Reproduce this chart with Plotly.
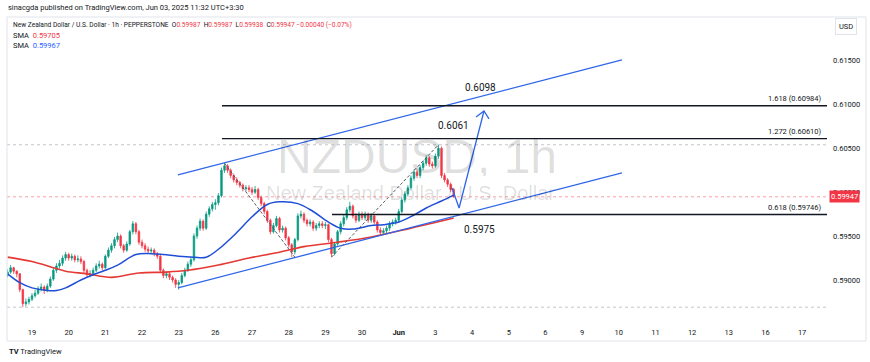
import plotly.graph_objects as go

# ---------------- data ----------------
# time axis: trading hours counted from 19 May 00:00 (weekends removed)
tick_labels = ["19", "20", "21", "22", "23", "26", "27", "28", "29", "30", "<b>Jun</b>",
               "3", "4", "5", "6", "9", "10", "11", "12", "13", "16", "17"]
tick_hours = [24 * i for i in range(len(tick_labels))]

bar_start_hour = -16
bar_step_hours = 2
first_open = 0.5905

close = [
    0.5909, 0.5914, 0.5910, 0.5907, 0.5889, 0.5873, 0.5875, 0.5878,
    0.5882, 0.5885, 0.5890, 0.5892, 0.5888, 0.5893, 0.5901, 0.5911, 0.5916, 0.5919, 0.5925, 0.5929,
    0.5925, 0.5927, 0.5923, 0.5924, 0.5921, 0.5911, 0.5906, 0.5907, 0.5911, 0.5916, 0.5918, 0.5914,
    0.5927, 0.5934, 0.5939, 0.5946, 0.5950, 0.5939, 0.5934, 0.5941, 0.5955, 0.5964, 0.5955, 0.5943,
    0.5939, 0.5935, 0.5933, 0.5934, 0.5930, 0.5927, 0.5911, 0.5905, 0.5907, 0.5903, 0.5900, 0.5895,
    0.5897, 0.5905, 0.5911, 0.5918, 0.5923, 0.5950, 0.5959, 0.5967, 0.5959, 0.5975, 0.5981, 0.5986,
    0.5988, 0.5996, 0.6025, 0.6030, 0.6025, 0.6019, 0.6014, 0.6011, 0.6008, 0.6004, 0.6005, 0.6003,
    0.6000, 0.6003, 0.5994, 0.5987, 0.5978, 0.5968, 0.5955, 0.5962, 0.5970, 0.5957, 0.5959, 0.5948,
    0.5940, 0.5932, 0.5946, 0.5973, 0.5975, 0.5968, 0.5964, 0.5966, 0.5959, 0.5962, 0.5964, 0.5962,
    0.5963, 0.5946, 0.5930, 0.5941, 0.5955, 0.5964, 0.5971, 0.5980, 0.5984, 0.5973, 0.5968, 0.5975,
    0.5971, 0.5975, 0.5968, 0.5973, 0.5966, 0.5957, 0.5954, 0.5956, 0.5959, 0.5964, 0.5966, 0.5968,
    0.5978, 0.5991, 0.5998, 0.6005, 0.6016, 0.6023, 0.6019, 0.6028, 0.6033, 0.6039, 0.6032, 0.6030,
    0.6041, 0.6050, 0.6019, 0.6014, 0.6009, 0.6003, 0.59947,
]
high = [
    0.5912, 0.5917, 0.5915, 0.5911, 0.5908, 0.5890, 0.5879, 0.5881,
    0.5885, 0.5889, 0.5893, 0.5896, 0.5894, 0.5896, 0.5904, 0.5914, 0.5919, 0.5923, 0.5928, 0.5932,
    0.5931, 0.5930, 0.5929, 0.5928, 0.5927, 0.5923, 0.5913, 0.5911, 0.5914, 0.5919, 0.5922, 0.5920,
    0.5929, 0.5937, 0.5942, 0.5949, 0.5954, 0.5952, 0.5941, 0.5944, 0.5957, 0.5967, 0.5966, 0.5957,
    0.5946, 0.5942, 0.5938, 0.5937, 0.5936, 0.5932, 0.5929, 0.5913, 0.5910, 0.5909, 0.5905, 0.5902,
    0.5900, 0.5908, 0.5914, 0.5921, 0.5926, 0.5953, 0.5962, 0.5970, 0.5969, 0.5978, 0.5984, 0.5989,
    0.5992, 0.5999, 0.6028, 0.6033, 0.6032, 0.6027, 0.6021, 0.6017, 0.6013, 0.6010, 0.6008, 0.6008,
    0.6006, 0.6007, 0.6005, 0.5996, 0.5989, 0.5980, 0.5970, 0.5965, 0.5973, 0.5972, 0.5962, 0.5961,
    0.5950, 0.5942, 0.5948, 0.5976, 0.5979, 0.5977, 0.5970, 0.5969, 0.5968, 0.5965, 0.5967, 0.5967,
    0.5966, 0.5964, 0.5948, 0.5943, 0.5957, 0.5967, 0.5974, 0.5983, 0.5989, 0.5986, 0.5976, 0.5978,
    0.5978, 0.5978, 0.5977, 0.5976, 0.5975, 0.5968, 0.5960, 0.5959, 0.5962, 0.5967, 0.5969, 0.5971,
    0.5981, 0.5994, 0.6001, 0.6008, 0.6019, 0.6026, 0.6026, 0.6031, 0.6036, 0.6042, 0.6041, 0.6035,
    0.6044, 0.6054, 0.6052, 0.6022, 0.6016, 0.6011, 0.60050,
]
low = [
    0.5903, 0.5907, 0.5907, 0.5903, 0.5886, 0.5869, 0.5870, 0.5872,
    0.5876, 0.5880, 0.5883, 0.5887, 0.5884, 0.5886, 0.5891, 0.5899, 0.5908, 0.5913, 0.5916, 0.5922,
    0.5922, 0.5922, 0.5920, 0.5920, 0.5918, 0.5908, 0.5903, 0.5903, 0.5905, 0.5909, 0.5913, 0.5911,
    0.5912, 0.5925, 0.5931, 0.5936, 0.5943, 0.5936, 0.5931, 0.5932, 0.5939, 0.5952, 0.5952, 0.5940,
    0.5936, 0.5932, 0.5930, 0.5930, 0.5927, 0.5924, 0.5908, 0.5902, 0.5902, 0.5900, 0.5897, 0.5891,
    0.5889, 0.5895, 0.5903, 0.5909, 0.5915, 0.5921, 0.5947, 0.5956, 0.5956, 0.5957, 0.5972, 0.5978,
    0.5980, 0.5985, 0.5994, 0.6022, 0.6022, 0.6016, 0.6011, 0.6008, 0.6005, 0.6001, 0.6001, 0.6000,
    0.5997, 0.5998, 0.5991, 0.5984, 0.5975, 0.5965, 0.5952, 0.5953, 0.5960, 0.5954, 0.5954, 0.5945,
    0.5937, 0.5926, 0.5929, 0.5944, 0.5970, 0.5965, 0.5961, 0.5961, 0.5956, 0.5956, 0.5959, 0.5959,
    0.5958, 0.5943, 0.5926, 0.5928, 0.5939, 0.5952, 0.5961, 0.5968, 0.5977, 0.5970, 0.5965, 0.5966,
    0.5968, 0.5968, 0.5965, 0.5965, 0.5963, 0.5954, 0.5951, 0.5951, 0.5953, 0.5956, 0.5961, 0.5963,
    0.5965, 0.5976, 0.5988, 0.5995, 0.6003, 0.6013, 0.6016, 0.6016, 0.6025, 0.6030, 0.6029, 0.6027,
    0.6028, 0.6038, 0.6016, 0.6011, 0.6006, 0.6000, 0.59938,
]

# moving averages (read at points along the curves)
sma_fast_hours = [-16, -8, 0, 10, 16, 22, 32, 40, 48, 56, 68, 78, 86, 96, 106, 114, 122, 134,
                  144, 154, 162, 174, 184, 194, 202, 210, 222, 230, 240, 250, 258, 268, 276]
sma_fast_values = [0.5907, 0.5897, 0.5891, 0.5888, 0.5888, 0.5891, 0.5900, 0.5906, 0.5911, 0.5917,
                   0.5929, 0.5930, 0.5929, 0.5927, 0.5926, 0.5926, 0.5935, 0.5954, 0.5972, 0.5986,
                   0.5989, 0.5987, 0.5978, 0.5966, 0.5959, 0.5958, 0.5962, 0.5963, 0.5966, 0.5974,
                   0.5982, 0.5990, 0.59967]
sma_slow_hours = [-16, 0, 14, 22, 36, 52, 70, 88, 102, 122, 142, 160, 178, 200, 222, 248, 276]
sma_slow_values = [0.5926, 0.5921, 0.5914, 0.5910, 0.5907, 0.5903, 0.5908, 0.5909, 0.5911, 0.5917,
                   0.5925, 0.5931, 0.5938, 0.5943, 0.5949, 0.5959, 0.59705]

# drawings
channel_hours = [95.5, 386.1]
channel_upper = [0.60197, 0.61507]
channel_lower = [0.58910, 0.60220]

fib_labels = ["1.618 (0.60984)", "1.272 (0.60610)", "0.618 (0.59746)"]
fib_prices = [0.60984, 0.60610, 0.59746]
fib_start_hours = [124.3, 124.3, 196.3]

swing1_hours = [126, 172]
swing1_prices = [0.6033, 0.5926]
swing2_hours = [196, 266]
swing2_prices = [0.5926, 0.6054]

arrow_hours = [274.9, 279.5, 295.8]
arrow_prices = [0.60048, 0.59820, 0.60925]
arrowhead_hours = [290.6, 295.8, 299.1]
arrowhead_prices = [0.60856, 0.60925, 0.60834]

target_labels = ["0.6098", "0.6061", "0.5975"]
last_price = 0.59947

# ---------------- figure ----------------
W, H = 870, 362
ML, MR, MT, MB = 7, 43, 17, 42
PW, PH = W - ML - MR, H - MT - MB


def xp(px):
    return (px - ML) / PW


def yp(py):
    return (H - MB - py) / PH


x_range = [(ML - 32) / 1.528, (W - MR - 32) / 1.528]
y_range = [0.62189 - 0.0001139 * (H - MB), 0.62189 - 0.0001139 * MT]

bar_hours = [bar_start_hour + bar_step_hours * i for i in range(len(close))]
opens = [first_open] + close[:-1]

UP, DOWN = "#089981", "#f23645"
BLUE_SMA, RED_SMA, DRAW_BLUE = "#1f4fd6", "#e53935", "#2f66e8"
TXT = "#131722"
FONT = "Roboto"

fig = go.Figure()

fig.add_trace(go.Scatter(x=sma_slow_hours, y=sma_slow_values, mode="lines",
                         line=dict(color=RED_SMA, width=1.6, shape="spline", smoothing=1.0),
                         hoverinfo="skip"))
fig.add_trace(go.Scatter(x=sma_fast_hours, y=sma_fast_values, mode="lines",
                         line=dict(color=BLUE_SMA, width=1.5, shape="spline", smoothing=1.0),
                         hoverinfo="skip"))

fig.add_trace(go.Candlestick(
    x=bar_hours, open=opens, high=high, low=low, close=close,
    increasing=dict(line=dict(color=UP, width=0.8), fillcolor=UP),
    decreasing=dict(line=dict(color=DOWN, width=0.8), fillcolor=DOWN),
    whiskerwidth=0, hoverinfo="skip"))

# channel lines
fig.add_trace(go.Scatter(x=channel_hours, y=channel_upper, mode="lines",
                         line=dict(color=DRAW_BLUE, width=1.3), hoverinfo="skip"))
fig.add_trace(go.Scatter(x=channel_hours, y=channel_lower, mode="lines",
                         line=dict(color=DRAW_BLUE, width=1.3), hoverinfo="skip"))
# projected path arrow
fig.add_trace(go.Scatter(x=arrow_hours, y=arrow_prices, mode="lines",
                         line=dict(color=DRAW_BLUE, width=1.3), hoverinfo="skip"))
fig.add_trace(go.Scatter(x=arrowhead_hours, y=arrowhead_prices, mode="lines",
                         line=dict(color=DRAW_BLUE, width=1.3), hoverinfo="skip"))
# dashed swing connectors
for hx, py_ in ((swing1_hours, swing1_prices), (swing2_hours, swing2_prices)):
    fig.add_trace(go.Scatter(x=hx, y=py_, mode="lines",
                             line=dict(color="#555a66", width=1, dash="3px,2px"), hoverinfo="skip"))

shapes = []
# visible high / low and last price dotted lines
shapes.append(dict(type="line", xref="x", yref="y", x0=x_range[0], x1=x_range[1],
                   y0=max(high), y1=max(high), line=dict(color="#c3c6ce", width=1, dash="dot"), layer="below"))
shapes.append(dict(type="line", xref="x", yref="y", x0=x_range[0], x1=x_range[1],
                   y0=min(low), y1=min(low), line=dict(color="#c3c6ce", width=1, dash="dot"), layer="below"))
shapes.append(dict(type="line", xref="x", yref="y", x0=x_range[0], x1=x_range[1],
                   y0=last_price, y1=last_price, line=dict(color="#f7a1a8", width=1, dash="dot"), layer="below"))
# fib levels
for fh, fp in zip(fib_start_hours, fib_prices):
    shapes.append(dict(type="line", xref="x", yref="y", x0=fh, x1=x_range[1], y0=fp, y1=fp,
                       line=dict(color=TXT, width=1.4)))
# outer frame
shapes.append(dict(type="rect", xref="paper", yref="paper", x0=xp(7), x1=xp(866), y0=yp(341), y1=yp(17),
                   line=dict(color="#e0e3eb", width=1), fillcolor="rgba(0,0,0,0)"))

annotations = []


def note(px_, py_, text, size=7.5, color=TXT, xanchor="center", family=FONT, **kw):
    annotations.append(dict(x=xp(px_), y=yp(py_), xref="paper", yref="paper", text=text,
                            xanchor=xanchor, yanchor="middle", showarrow=False,
                            font=dict(family=family, size=size, color=color), **kw))


# watermark
note(417, 156, "NZDUSD, 1h", size=48, color="rgba(0,0,0,0.13)", family="Liberation Sans", height=40)
note(410, 193, "New Zealand Dollar / U.S. Dollar", size=20, color="rgba(0,0,0,0.13)",
     family="Liberation Sans", height=18)
# fib level labels
for lab, py_ in zip(fib_labels, [98, 131, 207]):
    note(824, py_, lab, xanchor="right")
# target labels
for lab, (px_, py_) in zip(target_labels, [(481, 88), (453, 125), (480, 229)]):
    note(px_, py_, lab, size=10)
# header
note(6, 8, "sinacgda published on TradingView.com, Jun 03, 2025 11:32 UTC+3:30", xanchor="left")
red = lambda s: f"<span style='color:{DOWN}'>{s}</span>"
legend_text = ("New Zealand Dollar / U.S. Dollar · 1h · PEPPERSTONE  O" + red("0.59987") + "  H" + red("0.59987")
               + "  L" + red("0.59938") + "  C" + red("0.59947") + " " + red("−0.00040 (−0.07%)"))
note(11, 25, legend_text, xanchor="left", size=6.6)
note(11, 35, "SMA  " + red("0.59705"), xanchor="left")
note(11, 45, "SMA  <span style='color:#2962ff'>0.59967</span>", xanchor="left")
# USD box
note(846, 26, "USD", bordercolor="#e0e3eb", borderwidth=1, borderpad=3, bgcolor="white")
# last price tag
annotations.append(dict(x=xp(829), y=last_price, xref="paper", yref="y", xanchor="left", yanchor="middle",
                        text=f"{last_price:.5f}", showarrow=False, bgcolor=DOWN, borderpad=1,
                        font=dict(family=FONT, size=7.5, color="white")))
# TradingView logo
note(7, 351, "<b>TV</b> TradingView", xanchor="left")

fig.update_layout(
    width=W, height=H, margin=dict(l=ML, r=MR, t=MT, b=MB),
    paper_bgcolor="white", plot_bgcolor="white", showlegend=False,
    shapes=shapes, annotations=annotations,
    xaxis=dict(range=x_range, tickvals=tick_hours, ticktext=tick_labels, showgrid=False, zeroline=False,
               showline=False, ticks="", rangeslider=dict(visible=False), fixedrange=True,
               tickfont=dict(family=FONT, size=7.5, color=TXT), ticklabelstandoff=6),
    yaxis=dict(range=y_range, side="right", tickvals=[0.590, 0.595, 0.600, 0.605, 0.610, 0.615],
               tickformat=".5f", showgrid=False, zeroline=False, showline=False, ticks="",
               tickfont=dict(family=FONT, size=7.5, color=TXT), ticklabelstandoff=5, fixedrange=True),
)

fig.write_html("out.html", post_script="document.body.style.margin='0';",
               config={"displayModeBar": False})
